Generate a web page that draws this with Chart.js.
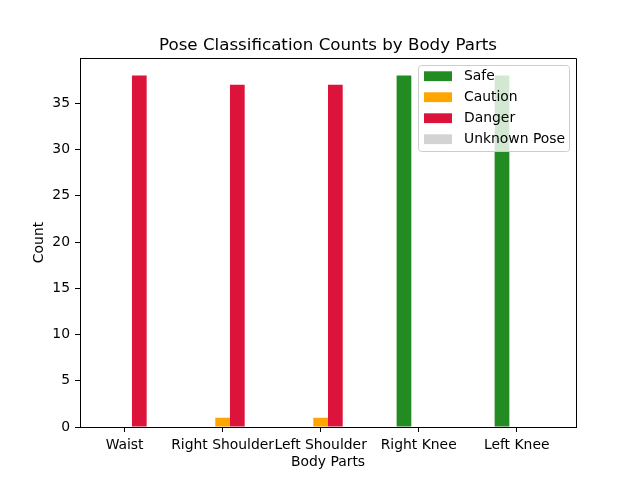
<!DOCTYPE html>
<html><head><meta charset="utf-8">
<script src="https://cdn.jsdelivr.net/npm/chart.js@4/dist/chart.umd.min.js"></script>
<style>html,body{margin:0;padding:0;background:#fff}#wrap{width:640px;height:480px}</style>
</head><body><div id="wrap"><canvas id="c" width="640" height="480"></canvas></div>
<script>
const categories = ['Waist', 'Right Shoulder', 'Left Shoulder', 'Right Knee', 'Left Knee'];
const safe = [0, 0, 0, 38, 38];
const caution = [0, 1, 1, 0, 0];
const danger = [38, 37, 37, 0, 0];
const unknownPose = [0, 0, 0, 0, 0];
const seriesNames = ['Safe', 'Caution', 'Danger', 'Unknown Pose'];
const seriesColors = ['#228b22', '#ffa500', '#dc143c', '#d3d3d3'];
const yTicks = [0, 5, 10, 15, 20, 25, 30, 35];
const chartTitle = 'Pose Classification Counts by Body Parts';
const xTitle = 'Body Parts';
const yTitle = 'Count';

const FONT = 'DejaVu Sans';
const FS = 13.9;
const BAR_W = 0.15;            // bar width in category units
const GROUP_SHIFT = BAR_W / 2; // bars start at tick - width (matplotlib offset layout)
Chart.defaults.font.family = FONT;
Chart.defaults.font.size = FS;
Chart.defaults.color = '#000';

const seriesValues = [safe, caution, danger, unknownPose];
const datasets = seriesValues.map((vals, k) => ({
  label: seriesNames[k],
  data: vals.map((v, i) => ({x: i + GROUP_SHIFT, y: v})),
  backgroundColor: seriesColors[k],
  borderWidth: 0,
  inflateAmount: 0,
  categoryPercentage: BAR_W * seriesValues.length,
  barPercentage: 1.0
}));

const decor = {
  id: 'decor',
  afterDraw(chart) {
    const ctx = chart.ctx;
    const a = chart.chartArea;
    ctx.save();
    ctx.strokeStyle = '#000';
    ctx.lineWidth = 1;
    ctx.beginPath();
    ctx.moveTo(a.left, a.top + 0.5);
    ctx.lineTo(a.right + 0.5, a.top + 0.5);
    ctx.lineTo(a.right + 0.5, a.bottom);
    ctx.stroke();
    ctx.fillStyle = '#000';
    ctx.font = '16.7px "' + FONT + '"';
    ctx.textAlign = 'center';
    ctx.textBaseline = 'alphabetic';
    ctx.fillText(chartTitle, (a.left + a.right) / 2, 49.7);
    const lx = 418.5, ly = 65.5, lw = 151, lh = 86, r = 3;
    ctx.beginPath();
    ctx.moveTo(lx + r, ly);
    ctx.lineTo(lx + lw - r, ly);
    ctx.arcTo(lx + lw, ly, lx + lw, ly + r, r);
    ctx.lineTo(lx + lw, ly + lh - r);
    ctx.arcTo(lx + lw, ly + lh, lx + lw - r, ly + lh, r);
    ctx.lineTo(lx + r, ly + lh);
    ctx.arcTo(lx, ly + lh, lx, ly + lh - r, r);
    ctx.lineTo(lx, ly + r);
    ctx.arcTo(lx, ly, lx + r, ly, r);
    ctx.closePath();
    ctx.fillStyle = 'rgba(255,255,255,0.8)';
    ctx.fill();
    ctx.strokeStyle = '#cccccc';
    ctx.stroke();
    ctx.font = FS + 'px "' + FONT + '"';
    ctx.textAlign = 'left';
    ctx.textBaseline = 'middle';
    chart.data.datasets.forEach((ds, k) => {
      const cy = 76.2 + k * 21;
      ctx.fillStyle = ds.backgroundColor;
      ctx.fillRect(424, cy - 4.9, 28, 9.8);
      ctx.fillStyle = '#000';
      ctx.fillText(ds.label, 464, cy);
    });
    ctx.restore();
  }
};

new Chart(document.getElementById('c'), {
  type: 'bar',
  data: {datasets},
  options: {
    responsive: false,
    animation: false,
    devicePixelRatio: 1,
    layout: {padding: {left: 0, top: 58, right: 64, bottom: 0}},
    plugins: {legend: {display: false}, title: {display: false}, tooltip: {enabled: false}},
    scales: {
      x: {
        type: 'linear',
        offset: false,
        min: -0.455,
        max: 4.605,
        afterBuildTicks: s => { s.ticks = categories.map((c, i) => ({value: i})); },
        afterFit: s => { s.height = 53; },
        grid: {drawOnChartArea: false, drawTicks: true, tickLength: 5, color: '#000', offset: false},
        border: {display: true, color: '#000', width: 1},
        ticks: {autoSkip: false, maxRotation: 0, minRotation: 0, padding: 5, color: '#000',
                callback: v => categories[v]},
        title: {display: true, text: xTitle, color: '#000', padding: {top: 0, bottom: 9.6}}
      },
      y: {
        type: 'linear',
        min: 0,
        max: 39.9,
        afterBuildTicks: s => { s.ticks = yTicks.map(v => ({value: v})); },
        afterFit: s => { s.width = 80; },
        grid: {drawOnChartArea: false, drawTicks: true, tickLength: 5, color: '#000'},
        border: {display: true, color: '#000', width: 1},
        ticks: {padding: 5, color: '#000'},
        title: {display: true, text: yTitle, color: '#000', padding: {top: 31, bottom: 0}}
      }
    }
  },
  plugins: [decor]
});
</script></body></html>
